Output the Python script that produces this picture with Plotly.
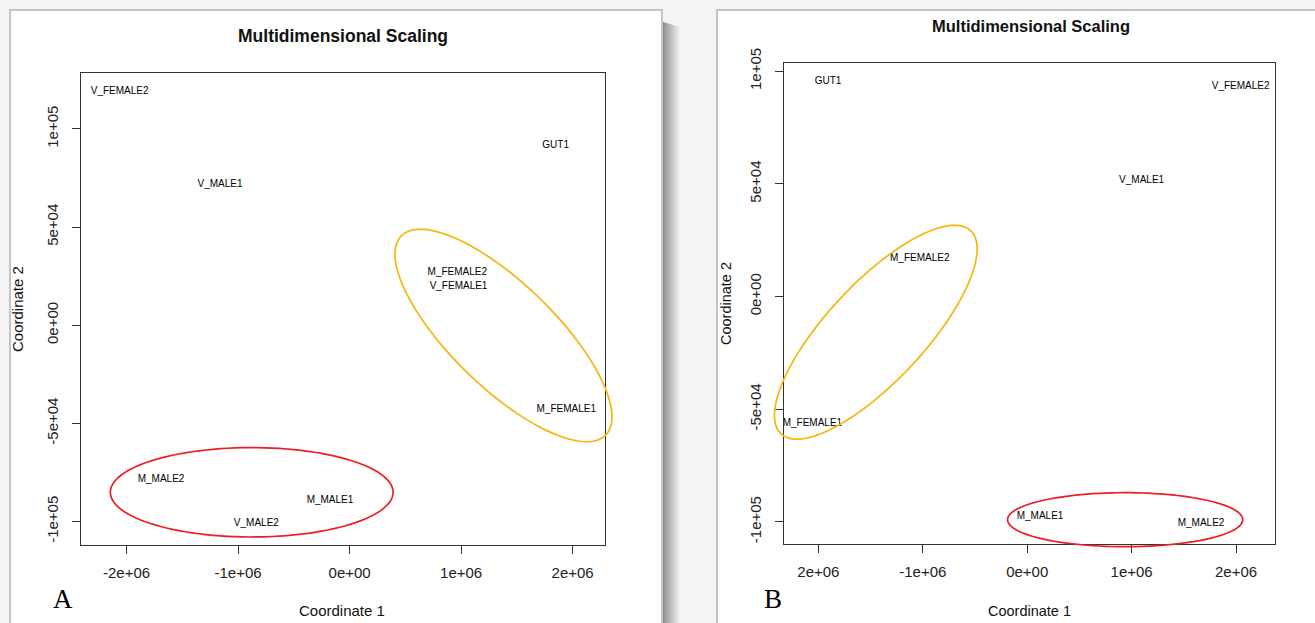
import numpy as np
import plotly.graph_objects as go

# ---------------- data ----------------
labels_a = ["V_FEMALE2", "GUT1", "V_MALE1", "M_FEMALE2", "V_FEMALE1",
            "M_FEMALE1", "M_MALE2", "M_MALE1", "V_MALE2"]
coord1_a = [-2.062e6, 1.848e6, -1.162e6, 0.966e6, 0.977e6,
            1.943e6, -1.691e6, -0.176e6, -0.836e6]
coord2_a = [118950, 91290, 71780, 26740, 19610,
            -43200, -78500, -89400, -101270]

labels_b = ["GUT1", "V_FEMALE2", "V_MALE1", "M_FEMALE2", "M_FEMALE1",
            "M_MALE1", "M_MALE2"]
coord1_b = [-1.907e6, 2.044e6, 1.096e6, -1.029e6, -2.057e6, 0.123e6, 1.665e6]
coord2_b = [95620, 93400, 51250, 16950, -56270, -97710, -100950]

x_tickvals = [-2e6, -1e6, 0, 1e6, 2e6]
x_ticktext_a = ["-2e+06", "-1e+06", "0e+00", "1e+06", "2e+06"]
x_ticktext_b = ["2e+06", "-1e+06", "0e+00", "1e+06", "2e+06"]
y_tickvals = [-1e5, -5e4, 0, 5e4, 1e5]
y_ticktext = ["-1e+05", "-5e+04", "0e+00", "5e+04", "1e+05"]

# ---------------- layout geometry ----------------
W, H = 1315, 623
def px(x):
    return x / W
def py(y):
    return 1 - y / H

xdom_a = [px(80.8), px(604.7)]
ydom_a = [py(545.0), py(72.7)]
xdom_b = [px(784.0), px(1275.3)]
ydom_b = [py(544.3), py(63.3)]
xr_a = [-2.4108e6, 2.2879e6]
yr_a = [-111970, 128630]
xr_b = [-2.329e6, 2.376e6]
yr_b = [-109960, 103480]

AX = "#333333"
LAB_FONT = dict(family="Liberation Sans, Arial", size=10, color="#000000")
TICK_FONT = dict(family="Liberation Sans, Arial", size=15, color="#222222")

fig = go.Figure()
fig.add_trace(go.Scatter(x=coord1_a, y=coord2_a, text=labels_a, mode="text",
                         textposition="middle center", textfont=LAB_FONT,
                         xaxis="x", yaxis="y", showlegend=False, cliponaxis=False))
fig.add_trace(go.Scatter(x=coord1_b, y=coord2_b, text=labels_b, mode="text",
                         textposition="middle center", textfont=LAB_FONT,
                         xaxis="x2", yaxis="y2", showlegend=False, cliponaxis=False))

def axis(dom, rng, tv, tt, ang, anchor, standoff):
    return dict(domain=dom, range=rng, tickvals=tv, ticktext=tt, tickangle=ang,
                showline=True, mirror=True, linecolor=AX, linewidth=1.3,
                ticks="outside", ticklen=8, tickwidth=1.3, tickcolor=AX,
                showgrid=False, zeroline=False, tickfont=TICK_FONT,
                automargin=False,
                anchor=anchor, ticklabelstandoff=standoff, fixedrange=True)

fig.update_layout(
    width=W, height=H, margin=dict(l=0, r=0, t=0, b=0, pad=0), autosize=False,
    paper_bgcolor="#f4f4f4", plot_bgcolor="rgba(0,0,0,0)",
    showlegend=False,
    xaxis=axis(xdom_a, xr_a, x_tickvals, x_ticktext_a, 0, "y", 6),
    yaxis=axis(ydom_a, yr_a, y_tickvals, y_ticktext, -90, "x", 8),
    xaxis2=axis(xdom_b, xr_b, x_tickvals, x_ticktext_b, 0, "y2", 6),
    yaxis2=axis(ydom_b, yr_b, y_tickvals, y_ticktext, -90, "x2", 8),
)

shapes = []
# screenshot frames
# shadow to the right of panel A
for i in range(12):
    g = int(140 + i * 9.5)
    shapes.append(dict(type="rect", xref="paper", yref="paper", layer="below",
                       x0=px(662 + i * 1.6), x1=px(662 + (i + 1) * 1.6 + 0.5),
                       y0=0, y1=py(22 + i * 0.5),
                       line=dict(width=0), fillcolor=f"rgb({g},{g},{g})"))
shapes.append(dict(type="rect", xref="paper", yref="paper", layer="below",
                   x0=px(10), x1=px(662), y0=py(626), y1=py(10),
                   line=dict(color="#c4c4c4", width=2), fillcolor="white"))
shapes.append(dict(type="rect", xref="paper", yref="paper", layer="below",
                   x0=px(717), x1=px(1320), y0=py(626), y1=py(10),
                   line=dict(color="#c4c4c4", width=2), fillcolor="white"))

# group ellipses (centre, two conjugate semi-axis vectors in data units)
def ellipse_path(c, u, v, xr, yr, xd, yd, n=120):
    t = np.linspace(0, 2 * np.pi, n)
    ex = c[0] + u[0] * np.cos(t) + v[0] * np.sin(t)
    ey = c[1] + u[1] * np.cos(t) + v[1] * np.sin(t)
    fx = xd[0] + (ex - xr[0]) / (xr[1] - xr[0]) * (xd[1] - xd[0])
    fy = yd[0] + (ey - yr[0]) / (yr[1] - yr[0]) * (yd[1] - yd[0])
    pts = [f"{a:.5f},{b:.5f}" for a, b in zip(fx, fy)]
    return "M" + " L".join(pts) + " Z"

RED = "#ee1c24"
GOLD = "#f6b60c"
ellipses = [
    ((-0.878e6, -85120), (1.268e6, 0), (0, 22770), xr_a, yr_a, xdom_a, ydom_a, RED),
    ((1.380e6, -5250), (0.9175e6, -50690), (0.3246e6, 18950), xr_a, yr_a, xdom_a, ydom_a, GOLD),
    ((0.938e6, -99040), (1.126e6, 0), (0, 11980), xr_b, yr_b, xdom_b, ydom_b, RED),
    ((-1.450e6, -15840), (0.908e6, 45080), (0.343e6, -14820), xr_b, yr_b, xdom_b, ydom_b, GOLD),
]
for c, u, v, xr, yr, xd, yd, col in ellipses:
    shapes.append(dict(type="path", xref="paper", yref="paper", layer="above",
                       path=ellipse_path(c, u, v, xr, yr, xd, yd),
                       line=dict(color=col, width=1.7)))
fig.update_layout(shapes=shapes)

ann = []
def text(x, y, s, size, family="Liberation Sans, Arial", angle=0, color="#111111"):
    ann.append(dict(x=px(x), y=py(y), xref="paper", yref="paper", text=s,
                    showarrow=False, xanchor="center", yanchor="middle",
                    textangle=angle, font=dict(family=family, size=size, color=color)))

text(343, 36, "<b>Multidimensional Scaling</b>", 17.5)
text(1030.5, 26, "<b>Multidimensional Scaling</b>", 16.5)
text(342, 610, "Coordinate 1", 15)
text(1029.7, 610.7, "Coordinate 1", 14.5)
text(17, 309, "Coordinate 2", 15, angle=-90)
text(726, 304, "Coordinate 2", 14.5, angle=-90)
text(63, 599, "A", 27, family="Liberation Serif, Times New Roman", color="#000000")
text(773, 599, "B", 27, family="Liberation Serif, Times New Roman", color="#000000")
fig.update_layout(annotations=ann)

fig.write_html("out.html")
